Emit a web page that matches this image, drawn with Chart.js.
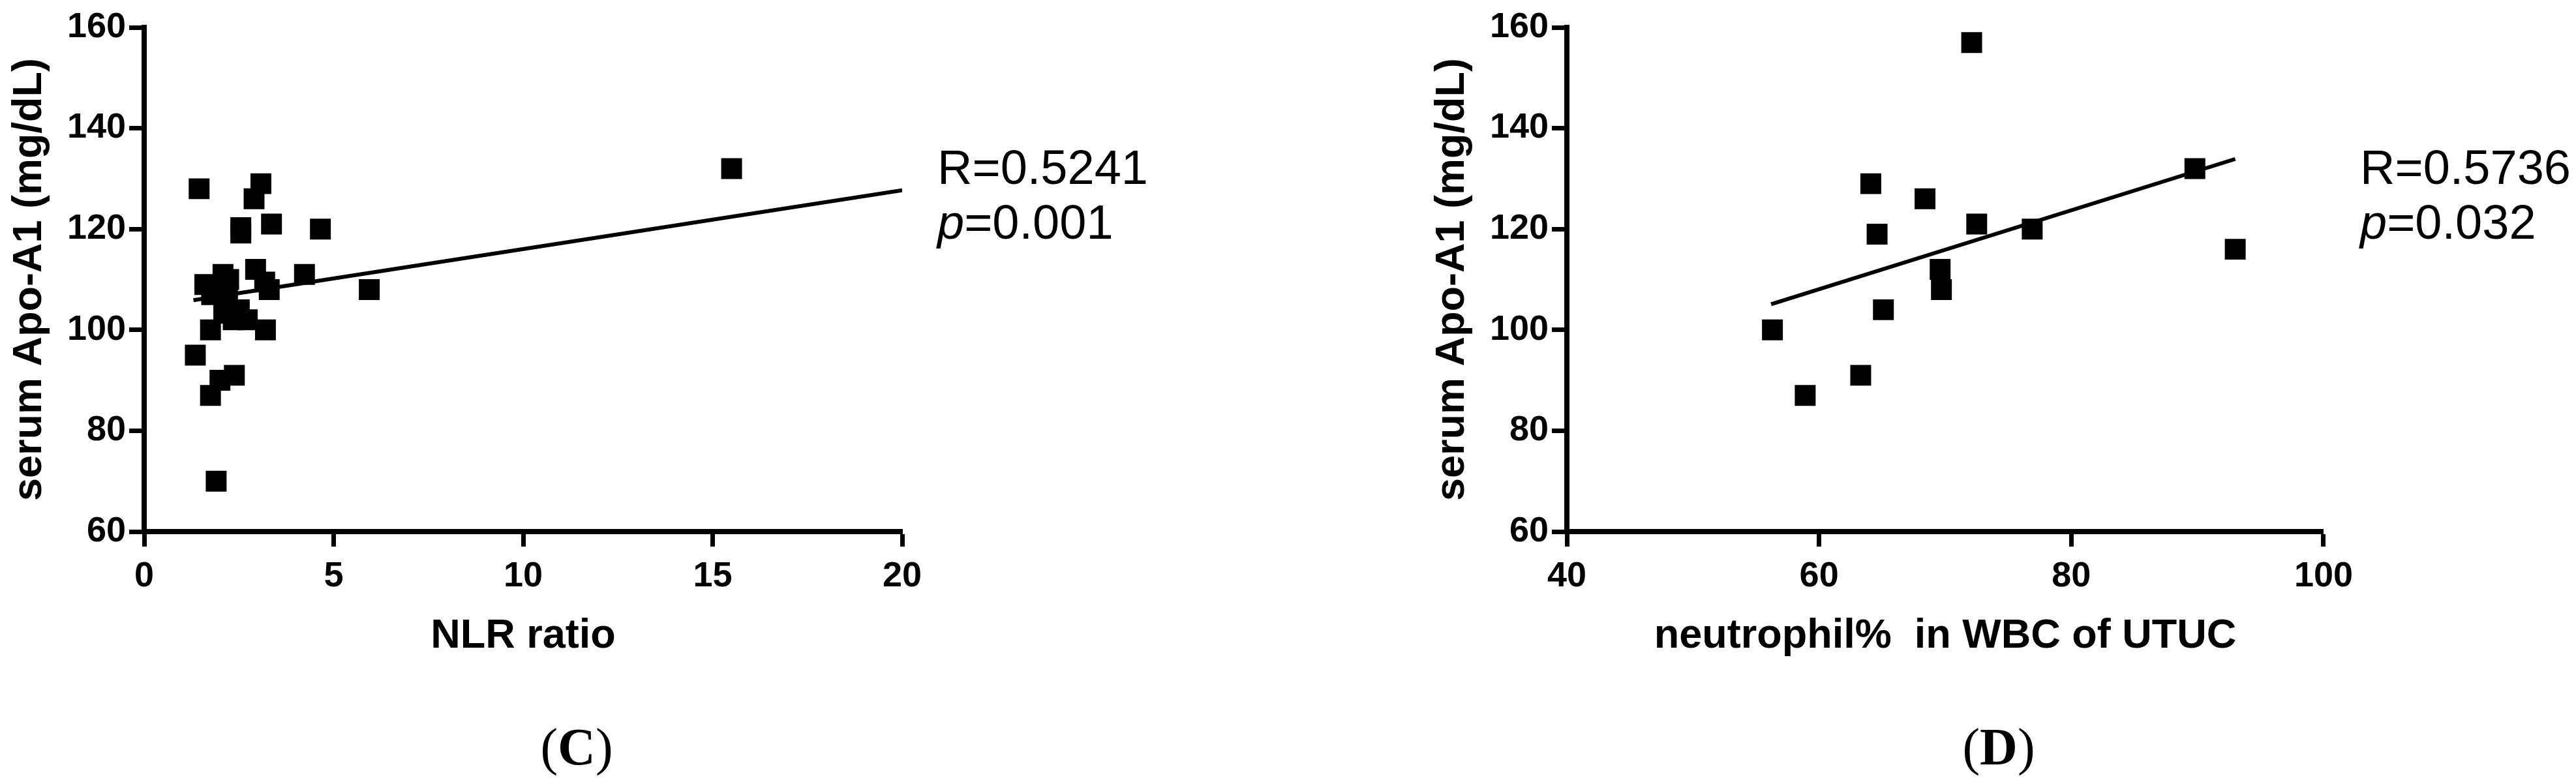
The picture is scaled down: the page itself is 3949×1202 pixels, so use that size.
<!DOCTYPE html>
<html>
<head>
<meta charset="utf-8">
<script src="https://cdn.jsdelivr.net/npm/chart.js@4.4.0/dist/chart.umd.min.js"></script>
<style>
  html, body { margin: 0; padding: 0; background: #fff; }
  body { width: 3949px; height: 1202px; position: relative; overflow: hidden; }
  .plot { position: absolute; top: 0; width: 1440px; height: 1030px; }
  .stat { position: absolute; font-family: 'Liberation Sans', Arial, sans-serif; font-size: 74px; line-height: 74px; color: #000; white-space: nowrap; }
  .panel { position: absolute; width: 200px; text-align: center; font-family: 'Liberation Serif', 'Times New Roman', serif; font-size: 80px; line-height: 80px; color: #000; }
</style>
</head>
<body>
<div class="plot" style="left:0px"><canvas id="nlrChart"></canvas></div>
<div class="plot" style="left:2181px"><canvas id="neutChart"></canvas></div>

<div class="stat" style="left:1437px; top:220px">R=0.5241</div>
<div class="stat" style="left:1437px; top:304px"><i>p</i>=0.001</div>
<div class="stat" style="left:3618px; top:220px">R=0.5736</div>
<div class="stat" style="left:3618px; top:304px"><i>p</i>=0.032</div>

<div class="panel" style="left:784px; top:1105px">(<b>C</b>)</div>
<div class="panel" style="left:2964px; top:1105px">(<b>D</b>)</div>

<script>
// Panel C: NLR ratio vs serum Apo-A1
const nlrX = [1.45, 3.08, 2.9, 2.55, 2.55, 3.36, 4.65, 2.94, 4.23, 3.18, 3.3, 5.94,
              1.6, 2.08, 2.23, 1.78, 2.2, 2.1, 2.51, 2.35, 2.72, 1.75, 3.2, 1.35,
              2.38, 2.0, 1.75, 1.9, 15.5];
const nlrApo = [128, 129, 126, 120.3, 119.2, 121, 120, 112, 111, 109.5, 108, 108,
                109, 111, 110, 107, 106.5, 103.3, 104, 102, 102, 100, 100, 95,
                91, 90, 87, 70, 132];
const nlrFitX = [1.3, 20];
const nlrFitY = [105.9, 127.7];
const nlrTicks = [0, 5, 10, 15, 20];

// Panel D: neutrophil% vs serum Apo-A1
const neutX = [56.3, 58.9, 64.1, 68.4, 64.6, 72.5, 76.9, 69.6, 69.7, 65.1, 63.3, 72.1, 89.8, 93.0];
const neutApo = [100, 87, 129, 126, 119, 121, 120, 112, 108, 104, 91, 157, 132, 116];
const neutFitX = [56.2, 93.0];
const neutFitY = [105.1, 133.9];
const neutTicks = [40, 60, 80, 100];

const apoTicks = [60, 80, 100, 120, 140, 160];

const FONT = "'Liberation Sans', Arial, sans-serif";

function makeScatter(id, xs, ys, fitX, fitY, xTicks, xTitle) {
    const ctx = document.getElementById(id);
    const points = xs.map((x, i) => ({ x: x, y: ys[i] }));
    const fit = fitX.map((x, i) => ({ x: x, y: fitY[i] }));

    return new Chart(ctx, {
        type: 'scatter',
        data: {
            datasets: [
                {
                    data: points,
                    pointStyle: 'rect',
                    pointRadius: 22.6,
                    pointHoverRadius: 22.6,
                    backgroundColor: '#000',
                    borderWidth: 0
                },
                {
                    data: fit,
                    showLine: true,
                    borderColor: '#000',
                    borderWidth: 6,
                    pointRadius: 0,
                    fill: false
                }
            ]
        },
        options: {
            responsive: true,
            maintainAspectRatio: false,
            animation: false,
            events: [],
            layout: { padding: { top: 42, left: 0, right: 57, bottom: 15 } },
            plugins: {
                legend: { display: false },
                tooltip: { enabled: false }
            },
            scales: {
                x: {
                    type: 'linear',
                    min: xTicks[0],
                    max: xTicks[xTicks.length - 1],
                    afterBuildTicks: (s) => { s.ticks = xTicks.map(v => ({ value: v })); },
                    afterFit: (s) => { s.height = 200; },
                    border: { display: true, color: '#000', width: 8 },
                    grid: { drawOnChartArea: false, drawTicks: true, tickLength: 23, tickWidth: 7, tickColor: '#000' },
                    ticks: {
                        color: '#000',
                        padding: 14,
                        maxRotation: 0,
                        font: { family: FONT, size: 54, weight: 'bold' }
                    },
                    title: {
                        display: true,
                        text: xTitle,
                        color: '#000',
                        padding: { top: 0, bottom: 2 },
                        font: { family: FONT, size: 63, weight: 'bold' }
                    }
                },
                y: {
                    type: 'linear',
                    min: apoTicks[0],
                    max: apoTicks[apoTicks.length - 1],
                    afterBuildTicks: (s) => { s.ticks = apoTicks.map(v => ({ value: v })); },
                    afterFit: (s) => { s.width = 221; },
                    border: { display: true, color: '#000', width: 8 },
                    grid: { drawOnChartArea: false, drawTicks: true, tickLength: 23, tickWidth: 7, tickColor: '#000' },
                    ticks: {
                        color: '#000',
                        padding: 5,
                        font: { family: FONT, size: 54, weight: 'bold' }
                    },
                    title: {
                        display: true,
                        text: 'serum Apo-A1 (mg/dL)',
                        color: '#000',
                        padding: { top: 8, bottom: 0 },
                        font: { family: FONT, size: 63, weight: 'bold' }
                    }
                }
            }
        }
    });
}

makeScatter('nlrChart', nlrX, nlrApo, nlrFitX, nlrFitY, nlrTicks, 'NLR ratio');
makeScatter('neutChart', neutX, neutApo, neutFitX, neutFitY, neutTicks, 'neutrophil%  in WBC of UTUC');
</script>
</body>
</html>
